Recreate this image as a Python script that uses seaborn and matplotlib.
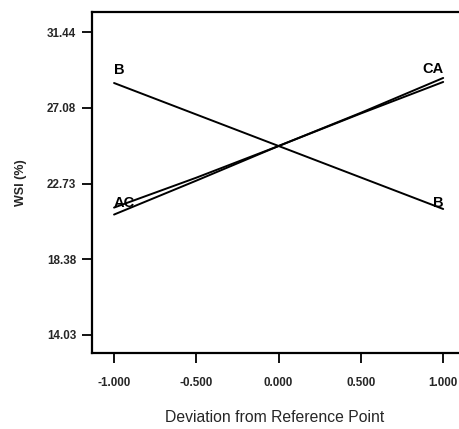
import matplotlib
matplotlib.use("Agg")
import matplotlib.pyplot as plt
import seaborn as sns
import pandas as pd

deviation = [-1.0, -0.5, 0.0, 0.5, 1.0]
wsi_A = [20.95, 22.90, 24.89, 26.76, 28.57]
wsi_C = [21.35, 23.07, 24.89, 26.80, 28.80]
wsi_B = [28.51, 26.70, 24.89, 23.08, 21.27]
y_ticks = [14.03, 18.38, 22.73, 27.08, 31.44]
x_ticks = [-1.0, -0.5, 0.0, 0.5, 1.0]

sns.set_theme(style="white")
plt.rcParams['font.family'] = ['Liberation Sans', 'DejaVu Sans']

df = pd.DataFrame({
    "Deviation": deviation * 3,
    "WSI": wsi_A + wsi_B + wsi_C,
    "factor": ["A"] * 5 + ["B"] * 5 + ["C"] * 5,
})

fig = plt.figure(figsize=(4.59, 4.29), dpi=100)
ax = fig.add_axes([92 / 459, 1 - 353 / 429, (458 - 92) / 459, (353 - 12) / 429])
sns.lineplot(data=df, x="Deviation", y="WSI", hue="factor",
             palette={"A": "black", "B": "black", "C": "black"},
             linewidth=1.4, legend=False, ax=ax)

ax.set_xlim(-1.134, 1.09)
ax.set_ylim(12.995, 32.59)
ax.set_xticks(x_ticks)
ax.set_xticklabels([f"{v:.3f}" for v in x_ticks])
ax.set_yticks(y_ticks)
ax.set_yticklabels([f"{v:.2f}" for v in y_ticks])
ax.tick_params(axis="both", direction="out", length=7.5, width=1.3, color="black",
               labelsize=8.4, left=True, bottom=True)
ax.tick_params(axis="x", pad=10)
ax.tick_params(axis="y", pad=4)
for lab in ax.get_xticklabels() + ax.get_yticklabels():
    lab.set_fontweight("bold")

for side in ["left", "bottom", "top"]:
    ax.spines[side].set_visible(True)
    ax.spines[side].set_color("black")
    ax.spines[side].set_linewidth(1.6)
ax.spines["right"].set_visible(False)

ax.set_ylabel("WSI (%)", fontsize=9, fontweight="bold", labelpad=14)
ax.set_xlabel("Deviation from Reference Point", fontsize=11.3, labelpad=15)

# labels at line ends
lab_kw = dict(fontsize=10.5, fontweight="bold", color="black")
ax.text(deviation[0], wsi_B[0] + 0.35, "B", ha="left", va="bottom", **lab_kw)
ax.text(deviation[0], wsi_C[0] - 0.15, "AC", ha="left", va="bottom", **lab_kw)
ax.text(deviation[-1], wsi_C[-1] + 0.1, "CA", ha="right", va="bottom", **lab_kw)
ax.text(deviation[-1], wsi_B[-1] - 0.05, "B", ha="right", va="bottom", **lab_kw)

fig.savefig("out.png", dpi=100)
